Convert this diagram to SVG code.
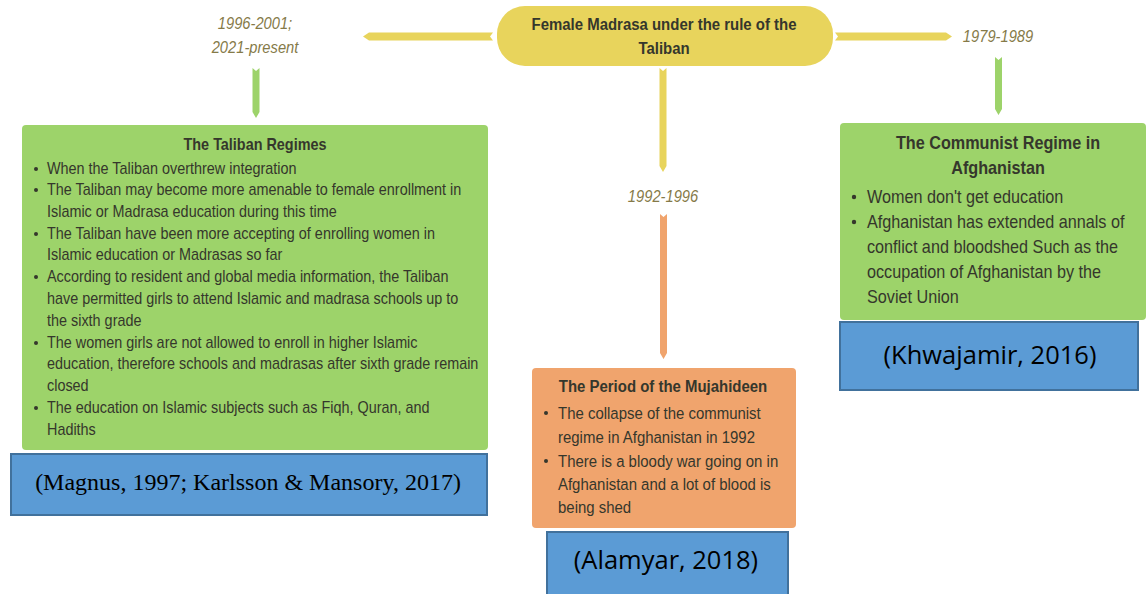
<svg xmlns="http://www.w3.org/2000/svg" width="1148" height="594" viewBox="0 0 1148 594">
<style>
.t{font-family:"Liberation Sans",Arial,sans-serif;fill:#35372c}
.b{font-weight:bold}
.m{text-anchor:middle}
.lbl{font-family:"Liberation Sans",Arial,sans-serif;font-style:italic;fill:#857a48;font-size:16px;text-anchor:middle}
.cite{fill:#5b9bd5;stroke:#41719c;stroke-width:2}
.cal{font-family:"Open Sans","Liberation Sans",sans-serif;fill:#000;font-size:25.5px;text-anchor:middle}
.tnr{font-family:"Liberation Serif","Times New Roman",serif;fill:#000;font-size:24px;text-anchor:middle}
.bul{fill:#35372c}
</style>
<rect width="1148" height="594" fill="#fff"/>
<g id="connectors">
<polygon points="363,36.5 369,32.5 493,32.5 490,36.5 493,40.5 369,40.5" fill="#e8d45c"/>
<polygon points="952,36.5 946,32.5 835,32.5 838,36.5 835,40.5 946,40.5" fill="#e8d45c"/>
<polygon points="659.5,68 663,71 666.5,68 666.5,166 663,172 659.5,166" fill="#e8d45c"/>
<polygon points="252.5,68 256,71 259.5,68 259.5,112 256,118 252.5,112" fill="#9dd36a"/>
<polygon points="995,57 998.5,60 1002,57 1002,109 998.5,115 995,109" fill="#9dd36a"/>
<polygon points="660,214 663.5,217 667,214 667,353 663.5,359 660,353" fill="#f0a46d"/>
</g>
<g id="central">
<rect x="497" y="6" width="336" height="60" rx="28" fill="#e8d45c"/>
<text class="t b m" font-size="17" transform="translate(664 30) scale(0.88 1)">Female Madrasa under the rule of the</text>
<text class="t b m" font-size="17" transform="translate(664 54) scale(0.88 1)">Taliban</text>
</g>
<g id="label-left">
<text class="lbl" transform="translate(255 29) scale(0.92 1)">1996-2001;</text>
<text class="lbl" transform="translate(255 53) scale(0.92 1)">2021-present</text>
</g>
<g id="label-right">
<text class="lbl" transform="translate(998 42) scale(0.92 1)">1979-1989</text>
</g>
<g id="label-mid">
<text class="lbl" transform="translate(663 202) scale(0.92 1)">1992-1996</text>
</g>
<g id="taliban">
<rect x="22" y="125" width="466" height="325" rx="4" fill="#9dd36a"/>
<text class="t b m" font-size="16" transform="translate(255 150) scale(0.9 1)">The Taliban Regimes</text>
<g class="t" font-size="16">
<text transform="translate(47 174) scale(0.9 1)">When the Taliban overthrew integration</text>
<text transform="translate(47 195) scale(0.9 1)">The Taliban may become more amenable to female enrollment in</text>
<text transform="translate(47 217) scale(0.9 1)">Islamic or Madrasa education during this time</text>
<text transform="translate(47 239) scale(0.9 1)">The Taliban have been more accepting of enrolling women in</text>
<text transform="translate(47 260) scale(0.9 1)">Islamic education or Madrasas so far</text>
<text transform="translate(47 282) scale(0.9 1)">According to resident and global media information, the Taliban</text>
<text transform="translate(47 304) scale(0.9 1)">have permitted girls to attend Islamic and madrasa schools up to</text>
<text transform="translate(47 326) scale(0.9 1)">the sixth grade</text>
<text transform="translate(47 348) scale(0.9 1)">The women girls are not allowed to enroll in higher Islamic</text>
<text transform="translate(47 369) scale(0.9 1)">education, therefore schools and madrasas after sixth grade remain</text>
<text transform="translate(47 391) scale(0.9 1)">closed</text>
<text transform="translate(47 413) scale(0.9 1)">The education on Islamic subjects such as Fiqh, Quran, and</text>
<text transform="translate(47 435) scale(0.9 1)">Hadiths</text>
</g>
<g class="bul">
<circle cx="36" cy="169" r="2"/><circle cx="36" cy="190" r="2"/><circle cx="36" cy="234" r="2"/><circle cx="36" cy="277" r="2"/><circle cx="36" cy="343" r="2"/><circle cx="36" cy="408" r="2"/>
</g>
</g>
<g id="taliban-cite">
<rect class="cite" x="11" y="454" width="476" height="61"/>
<text class="tnr" x="248" y="490">(Magnus, 1997; Karlsson &amp; Mansory, 2017)</text>
</g>
<g id="mujahideen">
<rect x="532" y="368" width="264" height="160" rx="4" fill="#f0a46d"/>
<text class="t b m" font-size="17" transform="translate(663 392) scale(0.88 1)">The Period of the Mujahideen</text>
<g class="t" font-size="17">
<text transform="translate(558 419) scale(0.88 1)">The collapse of the communist</text>
<text transform="translate(558 443) scale(0.88 1)">regime in Afghanistan in 1992</text>
<text transform="translate(558 467) scale(0.88 1)">There is a bloody war going on in</text>
<text transform="translate(558 490) scale(0.88 1)">Afghanistan and a lot of blood is</text>
<text transform="translate(558 513) scale(0.88 1)">being shed</text>
</g>
<g class="bul"><circle cx="546" cy="413" r="2"/><circle cx="546" cy="461" r="2"/></g>
</g>
<g id="mujahideen-cite">
<rect class="cite" x="547" y="532" width="241" height="64"/>
<text class="cal" x="666" y="569">(Alamyar, 2018)</text>
</g>
<g id="communist">
<rect x="840" y="123" width="306" height="197" rx="4" fill="#9dd36a"/>
<text class="t b m" font-size="18" transform="translate(998 149) scale(0.9 1)">The Communist Regime in</text>
<text class="t b m" font-size="18" transform="translate(998 174) scale(0.9 1)">Afghanistan</text>
<g class="t" font-size="18">
<text transform="translate(867 203) scale(0.9 1)">Women don't get education</text>
<text transform="translate(867 228) scale(0.9 1)">Afghanistan has extended annals of</text>
<text transform="translate(867 253) scale(0.9 1)">conflict and bloodshed Such as the</text>
<text transform="translate(867 278) scale(0.9 1)">occupation of Afghanistan by the</text>
<text transform="translate(867 303) scale(0.9 1)">Soviet Union</text>
</g>
<g class="bul"><circle cx="854" cy="197" r="2.2"/><circle cx="854" cy="222" r="2.2"/></g>
</g>
<g id="communist-cite">
<rect class="cite" x="840" y="322" width="298" height="68"/>
<text class="cal" x="990" y="364">(Khwajamir, 2016)</text>
</g>
</svg>
